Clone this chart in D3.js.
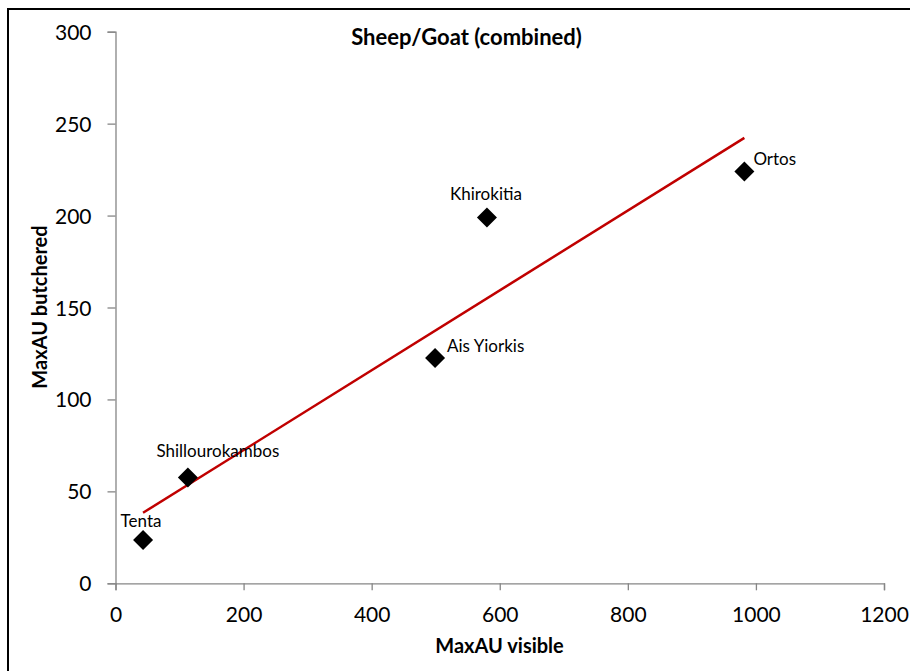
<!DOCTYPE html>
<html>
<head>
<meta charset="utf-8">
<script src="https://cdn.jsdelivr.net/npm/d3@7"></script>
<style>
  html, body { margin: 0; padding: 0; background: #fff; }
  svg { display: block; }
  text { font-family: Lato, "Open Sans", sans-serif; fill: #000; }
</style>
</head>
<body>
<script>
// ---- data ----
const sites      = ["Tenta", "Shillourokambos", "Ais Yiorkis", "Khirokitia", "Ortos"];
const maxVisible = [43, 113, 499, 580, 982];
const maxButch   = [23.5, 57.5, 122.5, 199, 224];
const xTicks = [0, 200, 400, 600, 800, 1000, 1200];
const yTicks = [0, 50, 100, 150, 200, 250, 300];
const titleText = "Sheep/Goat (combined)";
const xTitle = "MaxAU visible";
const yTitle = "MaxAU butchered";

const W = 910, H = 671;
const svg = d3.select("body").append("svg").attr("width", W).attr("height", H);

// outer chart frame
svg.append("rect").attr("x", 8).attr("y", 9).attr("width", W + 20).attr("height", H + 20)
  .attr("fill", "none").attr("stroke", "#000").attr("stroke-width", 2);

const x = d3.scaleLinear().domain([0, 1200]).range([115.5, 884]);
const y = d3.scaleLinear().domain([0, 300]).range([583.3, 31.7]);

// axes
const gx = svg.append("g").attr("transform", `translate(0,${y(0)})`)
  .call(d3.axisBottom(x).tickValues(xTicks).tickSize(7).tickPadding(17).tickFormat(d3.format("d")));
const gy = svg.append("g").attr("transform", `translate(${x(0)},0)`)
  .call(d3.axisLeft(y).tickValues(yTicks).tickSize(8).tickPadding(16).tickFormat(d3.format("d")));
[gx, gy].forEach(g => {
  g.select(".domain").attr("stroke", "#868686").attr("stroke-width", 1.3);
  g.selectAll(".tick line").attr("stroke", "#868686").attr("stroke-width", 1.3);
  g.selectAll(".tick text").style("font-family", "Lato, sans-serif").style("font-size", "21px").attr("fill", "#000");
});
gy.selectAll(".tick text").attr("dy", "0.36em");

// linear trendline (least squares over the data, spanning min..max x)
const n = maxVisible.length;
const mx = d3.mean(maxVisible), my = d3.mean(maxButch);
let sxy = 0, sxx = 0;
for (let i = 0; i < n; i++) { sxy += (maxVisible[i]-mx)*(maxButch[i]-my); sxx += (maxVisible[i]-mx)**2; }
const slope = sxy / sxx, icpt = my - slope * mx;
const xr = d3.extent(maxVisible);
svg.append("line")
  .attr("x1", x(xr[0])).attr("y1", y(icpt + slope * xr[0]))
  .attr("x2", x(xr[1])).attr("y2", y(icpt + slope * xr[1]))
  .attr("stroke", "#C00000").attr("stroke-width", 2.5);

// points
const pts = sites.map((s, i) => ({ s, vx: maxVisible[i], vy: maxButch[i] }));
svg.selectAll("path.pt").data(pts).join("path").attr("class", "pt")
  .attr("d", d3.symbol(d3.symbolSquare, 200))
  .attr("transform", d => `translate(${x(d.vx)},${y(d.vy)}) rotate(45)`)
  .attr("fill", "#000");

// labels (placement offsets in pixels, as positioned in the original chart)
const labelPlace = {
  "Tenta":           { dx: -2, dy: -13, anchor: "middle" },
  "Shillourokambos": { dx: 30, dy: -20.5, anchor: "middle" },
  "Ais Yiorkis":     { dx: 12, dy: -6.5, anchor: "start" },
  "Khirokitia":      { dx: -1, dy: -17.5, anchor: "middle" },
  "Ortos":           { dx: 9,  dy: -6, anchor: "start" }
};
svg.selectAll("text.lbl").data(pts).join("text").attr("class", "lbl")
  .attr("x", d => x(d.vx) + labelPlace[d.s].dx)
  .attr("y", d => y(d.vy) + labelPlace[d.s].dy)
  .attr("text-anchor", d => labelPlace[d.s].anchor)
  .style("font-size", "17px")
  .text(d => d.s);

// title
svg.append("text").attr("x", 466.5).attr("y", 45).attr("text-anchor", "middle")
  .style("font-size", "22px").style("font-weight", "bold").text(titleText);
// axis titles
svg.append("text").attr("x", 499.5).attr("y", 652.5).attr("text-anchor", "middle")
  .style("font-size", "20px").style("font-weight", "bold").text(xTitle);
svg.append("text").attr("transform", "translate(46.5,307) rotate(-90)").attr("text-anchor", "middle")
  .style("font-size", "20px").style("font-weight", "bold").text(yTitle);
</script>
</body>
</html>
